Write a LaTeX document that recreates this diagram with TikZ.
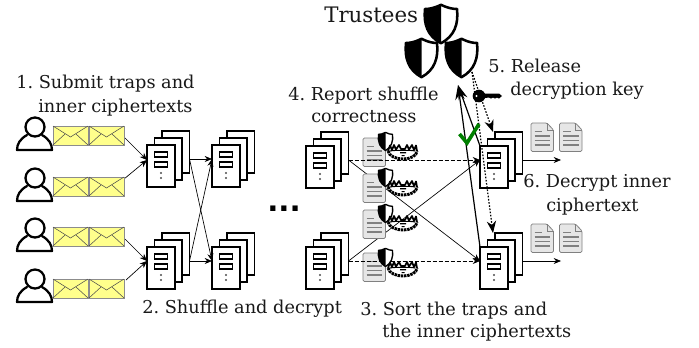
\documentclass[tikz,border=0pt]{standalone}
\usepackage{fontspec}
\setmainfont{DejaVu Serif}
\newfontfamily\dotsfont{DejaVu Sans}
\frenchspacing
\usetikzlibrary{arrows.meta}
\definecolor{envy}{HTML}{FFFF8C}
\definecolor{docf}{HTML}{E6E6E6}
\definecolor{docl}{HTML}{808080}
\definecolor{chk}{HTML}{008000}
\tikzset{
 lbl/.style={anchor=base west,inner sep=0pt,font=\fontsize{13.3pt}{15pt}\selectfont,text=black!90},
 serverbox/.style={draw=black,line width=1.4pt,fill=white},
 thinline/.style={draw=black,line width=0.5pt},
 flow/.style={thinline,-{Stealth[length=5.5pt,width=4.5pt]}},
 dashflow/.style={flow,dash pattern=on 3pt off 1.5pt},
 keyflow/.style={draw=black,line width=0.9pt,dash pattern=on 1.2pt off 1.2pt,-{Stealth[length=9pt,width=7pt]}},
 verifyflow/.style={draw=black,line width=0.9pt,-{Stealth[length=11pt,width=7pt]}},
}
\newcommand{\srvstack}[3]{%
 \draw[serverbox] (#2+15,#3-14) rectangle ++(27.5,42);
 \draw[serverbox] (#2+7.5,#3-7) rectangle ++(27.5,42);
 \draw[serverbox] (#2,#3) rectangle ++(28,42);
 \draw[draw=black,line width=0.9pt] (#2+7.5,#3+7) rectangle ++(13,5);
 \draw[draw=black,line width=0.9pt] (#2+7.5,#3+17) rectangle ++(13,5);
 \fill[black!70] (#2+14,#3+28) circle (1.1) (#2+14,#3+33) circle (1.1);
 \coordinate (#1in) at (#2,#3+14);
 \coordinate (#1out) at (#2+42.5,#3+14);
 \coordinate (#1top) at (#2+13,#3-14);
}
\newcommand{\usr}[2]{%
 \draw[black,line width=1.7pt] (#1,#2) circle (9.5);
 \draw[black,line width=1.7pt,line cap=round,line join=round] (#1-8,#2+8) .. controls (#1-15,#2+12) and (#1-18,#2+17) .. (#1-18,#2+23) -- (#1+17,#2+23) .. controls (#1+17,#2+17) and (#1+14,#2+12) .. (#1+7,#2+8);
}
\newcommand{\envl}[2]{%
 \draw[fill=envy,draw=black!45,line width=0.6pt] (#1,#2) rectangle ++(35,19);
 \draw[black!70,line width=0.4pt] (#1,#2) -- (#1+17.5,#2+11) -- (#1+35,#2);
 \draw[black!70,line width=0.4pt] (#1,#2+19) -- (#1+12,#2+8) (#1+35,#2+19) -- (#1+23,#2+8);
}
\newcommand{\docu}[2]{%
 \draw[fill=docf,draw=docl,line width=0.6pt,line join=round,rounded corners=1pt] (#1,#2) -- (#1+16,#2) -- (#1+22.5,#2+7) -- (#1+22.5,#2+28.5) -- (#1,#2+28.5) -- cycle;
 \draw[docl,line width=0.5pt] (#1+16,#2) -- (#1+16,#2+7) -- (#1+22.5,#2+7);
 \draw[docl,line width=1.3pt] (#1+3.5,#2+8.5) -- (#1+11,#2+8.5) (#1+3.5,#2+13) -- (#1+19,#2+13) (#1+3.5,#2+17.5) -- (#1+19,#2+17.5) (#1+3.5,#2+22) -- (#1+19,#2+22);
}
\newcommand{\shld}[5]{%
 \begin{scope}[shift={(#1,#2)},xscale=#3,yscale=#4]
 \filldraw[fill=white,draw=black,line width=#5,line join=round] (.5,.02) .. controls (.7,.1) and (.85,.13) .. (.97,.12) .. controls (1.02,.5) and (.9,.8) .. (.5,.98) .. controls (.1,.8) and (-.02,.5) .. (.03,.12) .. controls (.15,.13) and (.3,.1) .. (.5,.02) -- cycle;
 \fill[black] (.5,.02) .. controls (.3,.1) and (.15,.13) .. (.03,.12) .. controls (-.02,.5) and (.1,.8) .. (.5,.98) -- cycle;
 \end{scope}
}
\newcommand{\trp}[2]{%
 \begin{scope}[shift={(#1,#2)}]
 \draw[black,line width=1.3pt,line join=round] (0,7) -- (2,1.5) -- (4,6) -- (6,1) -- (8,5.5) -- (11,1) -- (13,5) -- (17,5) -- (19,1) -- (21,5.5) -- (24,1) -- (26,6) -- (28,1.5) -- (29,7);
 \draw[black,line width=2.2pt,dash pattern=on 1.8pt off .6pt] (0,7) .. controls (1,12) and (8,15) .. (15,15) .. controls (22,15) and (29,12) .. (29,7);
 \draw[black,line width=.8pt] (2,7) .. controls (6,6) and (24,6) .. (27,7);
 \fill[black] (12,8) rectangle (18,9.4) (13.5,11) rectangle (16.5,12);
 \end{scope}
}
\begin{document}
\begin{tikzpicture}[x=0.75pt,y=-0.75pt]
\useasboundingbox (0,0) rectangle (699,347);
\fill[white] (0,0) rectangle (699,347);
% connectors first
\coordinate (e1) at (124,137); \coordinate (e2) at (124,179);
\coordinate (e3) at (125,239); \coordinate (e4) at (126,280);
\coordinate (s1pt) at (147,160); \coordinate (s2pt) at (147,261);
\coordinate (tar) at (458,85);
\coordinate (shr) at (472,72);
\draw[flow] (e1) -- (s1pt);
\draw[flow] (e2) -- (s1pt);
\draw[flow] (e3) -- (s2pt);
\draw[flow] (e4) -- (s2pt);
% users & envelopes
\usr{35}{127}\usr{35}{178}\usr{35}{228}\usr{35}{279}
\envl{53}{126}\envl{89}{126}
\envl{53}{177}\envl{89}{177}
\envl{53}{227}\envl{89}{227}
\envl{53}{279}\envl{89}{279}
% servers
\srvstack{a}{147}{145}
\srvstack{b}{147}{247}
\srvstack{c}{212}{145}
\srvstack{d}{212}{247}
\draw[flow] (aout) -- (cin);
\draw[flow] (aout) -- (din);
\draw[flow] (bout) -- (cin);
\draw[flow] (bout) -- (din);
\srvstack{e}{306}{146}
\srvstack{f}{306}{247}
\draw[thinline,-{Stealth[length=5.5pt,width=4.5pt]}] (eout) -- (480,261) coordinate (gin2);
\draw[thinline,-{Stealth[length=5.5pt,width=4.5pt]}] (fout) -- (480,160) coordinate (gin1);
% docs and traps
\docu{363}{138}\docu{363}{174}\docu{363}{210}\docu{363}{253}
\draw[dashflow] (eout) -- (gin1);
\draw[dashflow] (fout) -- (gin2);
\shld{378}{132}{15}{19}{1pt}\shld{378}{168}{15}{19}{1pt}\shld{378}{204}{15}{19}{1pt}\shld{378}{248}{15}{19}{1pt}
\trp{388}{144}\trp{388}{180}\trp{388}{215}\trp{388}{261}
% receivers
\srvstack{g}{480}{146}
\srvstack{h}{480}{247}
\coordinate (gtipl) at (480,146);
\coordinate (htipl) at (480,247);
\draw[verifyflow] (gtipl) -- (tar);
\draw[verifyflow] (htipl) -- (tar);
\draw[keyflow] (shr) -- (gtop);
\draw[keyflow] (shr) -- (htop);
\draw[flow] (gout) -- (561,160) coordinate (gend);
\draw[flow] (hout) -- (561,261) coordinate (hend);
\docu{531}{123}\docu{559.5}{123}
\docu{531}{224}\docu{559.5}{224}
% trustees
\shld{424}{4}{34}{40}{1.9pt}\shld{405}{38}{33}{40}{1.9pt}\shld{445}{38}{33}{40}{1.9pt}
% key
\node[circle,fill=black,minimum size=9.5pt,inner sep=0pt] (keyhead) at (479,96) {};
\fill[black] (keyhead.center) -- (481,93.5) -- (499,93.5) -- (502,96) -- (499,98.5) -- (497,97.5) -- (495,98.5) -- (493,97.5) -- (491,98.5) -- (489,97.5) -- (481,98.5) -- cycle;
\fill[white] (476.5,96) circle (1.1);
% check
\draw[chk,line width=2.7pt] (459.5,134) -- (467,143) -- (479,124);
% text
\node[lbl,font=\fontsize{16pt}{18pt}\selectfont] (tt) at (324,22) {Trustees};
\node[lbl] (t1a) at (16,88) {1. Submit traps and};
\node[lbl] (t1b) at (38,112) {inner ciphertexts};
\node[lbl] (t2) at (142,313) {2. Shuffle and decrypt};
\node[lbl] (t3a) at (360,315) {3. Sort the traps and};
\node[lbl] (t3b) at (382,337) {the inner ciphertexts};
\node[lbl] (t4a) at (288,100) {4. Report shuffle};
\node[lbl] (t4b) at (311,122) {correctness};
\node[lbl] (t5a) at (488,72) {5. Release};
\node[lbl] (t5b) at (510,95) {decryption key};
\node[lbl] (t6a) at (523,187) {6. Decrypt inner};
\node[lbl] (t6b) at (546,211) {ciphertext};
\node[anchor=base west,inner sep=0pt,font=\dotsfont\bfseries\fontsize{22pt}{24pt}\selectfont] (dots) at (267,211) {...};
\end{tikzpicture}
\end{document}
